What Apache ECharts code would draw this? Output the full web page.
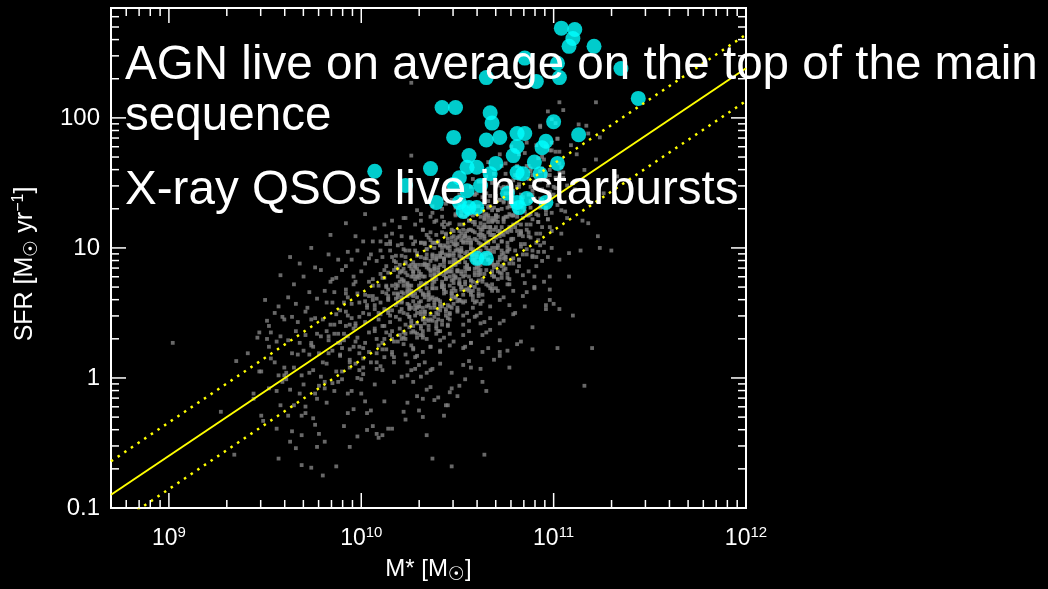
<!DOCTYPE html>
<html>
<head>
<meta charset="utf-8">
<title>SFR versus stellar mass</title>
<script src="https://cdn.jsdelivr.net/npm/echarts@6/dist/echarts.min.js"></script>
<style>
  html, body { margin: 0; padding: 0; background: #000; }
  #chart { width: 1048px; height: 589px; }
</style>
</head>
<body>
<div id="chart"></div>
<script>
// Every quantity below is log10: stellar mass in M_sun, star formation rate in M_sun / yr.

// Axis ranges and labelled decades
const massRange = [Math.log10(5e8), 12];
const sfrRange = [-1, Math.log10(700)];
const massTicks = [9, 10, 11, 12];
const sfrTicks = [-1, 0, 1, 2];
const sfrTickText = ['0.1', '1', '10', '100'];

// Main sequence and its +/- scatter band (end points)
const msLogMass = [8.699, 12];
const msLogSFR = [-0.898, 2.382];
const msUpperLogSFR = [-0.641, 2.641];
const msLowerLogSFR = [-1.154, 2.13];

// Field galaxies, [log M*, log SFR]
const fieldLowMass = [
  [9.02,0.27],[9.27,-0.26],[9.34,-0.59],[9.41,0.19],[9.35,0.13],[9.47,0.35],[9.51,0.30],[9.52,0.24],[9.48,0.05],[9.56,-0.10],
  [9.57,0.02],[9.44,-0.16],[9.48,-0.29],[9.56,-0.39],[9.44,-0.12],[9.47,0.05],[9.52,-0.08],[9.55,0.12],[9.58,-0.21],[9.49,-0.33],
  [9.56,0.28],[9.60,0.02],[9.53,0.35],[9.46,0.31],[9.57,-0.62],[9.63,-0.49],[9.69,-0.67],[9.78,-0.43],[9.94,-0.53],[9.91,-0.37],
  [9.50,0.60],[9.51,0.44],[9.58,0.79],[9.59,0.47],[9.58,0.32],[9.63,0.93],[9.65,0.72],[9.66,0.57],[9.70,0.78],[9.74,1.00],
  [9.84,1.10],[9.85,0.76],[9.92,1.19],[9.76,0.85],[9.60,0.45],[9.52,0.40],[9.97,1.09],[9.93,0.97],[9.90,0.83],
  [9.61,-0.01],[9.64,0.19],[9.62,-0.29],[9.60,0.08],[9.63,-0.09],[9.62,0.29],[9.64,-0.41],[9.61,0.04],
  [9.65,0.08],[9.68,-0.12],[9.67,0.43],[9.69,0.02],[9.66,-0.54],[9.68,0.27],[9.65,-0.21],[9.67,0.18],[9.69,-0.29],
  [9.74,0.25],[9.71,-0.27],[9.73,0.18],[9.70,-0.05],[9.72,0.54],[9.74,-0.69],[9.71,0.33],[9.73,0.04],[9.71,-0.22],[9.74,0.27],
  [9.75,0.06],[9.77,-0.16],[9.79,0.32],[9.76,-0.36],[9.78,0.19],[9.76,0.46],[9.79,0.01],[9.77,-0.53],[9.75,0.24],[9.78,-0.06],[9.77,0.34],
  [9.81,-0.49],[9.83,0.32],[9.81,-0.03],[9.84,0.41],[9.82,-0.19],[9.80,0.45],[9.83,0.19],[9.82,0.11],[9.84,0.74],[9.81,-0.08],[9.83,0.29],[9.80,-0.75],[9.82,0.36],
  [9.89,0.18],[9.87,0.77],[9.85,-0.04],[9.88,0.34],[9.87,-0.68],[9.89,0.43],[9.86,-0.10],[9.88,0.27],[9.85,0.58],[9.87,0.05],[9.89,0.27],[9.86,0.41],[9.88,-0.03],[9.86,0.34],[9.89,0.17],
  [9.93,0.32],[9.92,0.65],[9.94,0.12],[9.91,0.29],[9.93,0.48],[9.90,-0.01],[9.92,0.40],[9.94,0.22],[9.91,0.58],[9.93,-0.12],[9.91,0.34],[9.94,0.14],[9.92,0.68],[9.90,0.23],[9.93,-0.27],[9.92,0.51],[9.94,0.08],
  [9.96,0.24],[9.98,0.65],[9.95,-0.10],[9.97,0.40],[9.99,0.19],[9.96,0.72],[9.98,0.31],[9.96,-0.24],[9.99,0.58],[9.97,0.11],[9.95,0.46],[9.98,0.00],[9.97,0.42],[9.99,0.24],[9.96,0.78],[9.98,-0.45],[9.95,0.57],[9.97,0.28],[9.99,0.06],
  [9.53,0.15],[9.57,0.55],[9.62,0.62],[9.66,0.36],[9.68,0.88],[9.71,0.51],[9.73,0.66],[9.75,-0.31],[9.77,0.61],[9.79,0.83],[9.80,0.12],[9.82,0.58],
  [9.83,0.95],[9.85,0.21],[9.86,0.66],[9.88,0.91],[9.89,0.52],[9.90,0.05],[9.92,0.86],[9.93,0.62],[9.95,0.91],[9.96,0.38],[9.97,0.74],[9.98,0.98],
  [9.99,0.47],[9.70,0.21],[9.74,0.45],[9.81,0.67],[9.87,0.49],[9.94,0.41],[9.64,0.47],[9.59,-0.03],[9.55,0.50],[9.69,-0.44],[9.76,-0.12]
];

const fieldMidMass = [
  [10.02,-0.18],[10.04,0.63],[10.01,0.15],[10.03,0.54],[10.01,0.03],[10.04,0.49],[10.02,0.27],[10.00,0.82],[10.03,-0.40],[10.02,0.64],[10.04,0.35],[10.01,0.08],[10.03,0.56],[10.00,-0.12],[10.02,0.43],[10.04,0.74],[10.01,0.23],[10.03,-0.27],[10.01,0.50],[10.04,0.20],[10.02,0.59],[10.00,-0.01],
  [10.08,0.90],[10.06,-0.37],[10.09,0.71],[10.07,0.38],[10.05,0.12],[10.08,0.61],[10.07,-0.05],[10.09,0.50],[10.06,0.76],[10.08,0.30],[10.05,-0.25],[10.07,0.56],[10.09,0.25],[10.06,0.63],[10.08,0.07],[10.06,0.71],[10.09,0.45],[10.07,0.36],[10.05,0.95],[10.08,0.19],[10.07,0.53],[10.09,-0.46],[10.06,0.60],[10.08,0.12],
  [10.12,0.53],[10.10,0.80],[10.13,0.35],[10.12,-0.18],[10.14,0.63],[10.11,0.27],[10.13,0.70],[10.10,0.09],[10.12,0.77],[10.14,0.50],[10.11,0.40],[10.13,1.03],[10.11,0.22],[10.14,0.60],[10.11,-0.44],[10.14,0.68],[10.12,0.16],[10.10,0.49],[10.13,0.86],[10.12,0.30],[10.14,0.52],[10.11,0.66],[10.13,0.22],[10.10,0.58],[10.12,0.40],[10.14,0.81],[10.11,0.06],
  [10.17,0.16],[10.19,0.84],[10.16,0.52],[10.18,0.47],[10.15,1.05],[10.17,0.28],[10.19,0.65],[10.16,-0.39],[10.18,0.72],[10.16,0.20],[10.19,0.58],[10.17,0.90],[10.15,0.33],[10.18,0.56],[10.16,0.71],[10.19,0.28],[10.17,0.65],[10.15,0.43],[10.18,0.85],[10.17,0.12],[10.19,0.62],[10.16,0.36],[10.18,0.94],[10.15,0.48],[10.17,-0.03],[10.19,0.78],[10.16,0.30],[10.18,0.69],[10.16,0.18],[10.19,0.64],
  [10.23,-0.32],[10.20,0.74],[10.22,0.26],[10.24,0.63],[10.21,0.94],[10.23,0.41],[10.21,0.59],[10.24,0.79],[10.21,0.30],[10.24,0.72],[10.22,0.50],[10.20,0.87],[10.23,0.18],[10.22,0.65],[10.24,0.57],[10.21,0.01],[10.23,0.98],[10.20,0.33],[10.22,0.71],[10.24,0.02],[10.21,0.82],[10.23,0.34],[10.21,0.66],[10.24,0.49],[10.21,1.03],[10.24,-0.19],[10.22,0.84],[10.20,0.51],[10.23,0.30],[10.22,0.75],[10.24,0.12],[10.21,0.62],[10.23,0.93],
  [10.29,0.84],[10.26,0.35],[10.28,0.76],[10.26,0.54],[10.29,0.96],[10.27,0.22],[10.25,0.68],[10.28,0.48],[10.27,1.03],[10.29,0.62],[10.26,0.06],[10.28,0.87],[10.25,0.39],[10.27,0.78],[10.29,0.31],[10.26,0.71],[10.28,0.53],[10.26,1.08],[10.29,-0.14],[10.27,0.89],[10.25,0.56],[10.28,0.35],[10.27,0.80],[10.29,0.17],[10.26,0.67],[10.28,0.98],[10.25,0.47],[10.27,-0.03],[10.29,0.78],[10.26,0.42],[10.28,0.85],[10.26,0.25],[10.29,0.94],[10.27,0.63],[10.25,0.54],[10.28,1.18],
  [10.31,0.51],[10.34,1.10],[10.32,0.65],[10.30,0.10],[10.33,0.92],[10.32,0.46],[10.34,0.85],[10.31,0.33],[10.33,0.78],[10.30,0.55],[10.32,1.14],[10.34,-0.09],[10.31,0.93],[10.33,0.64],[10.31,0.38],[10.34,0.87],[10.32,0.20],[10.30,0.71],[10.33,1.03],[10.32,0.54],[10.34,0.04],[10.31,0.80],[10.33,0.49],[10.30,0.87],[10.32,0.31],[10.34,0.99],[10.31,0.67],[10.33,0.62],[10.31,1.21],[10.34,0.45],[10.32,0.78],[10.30,-0.25],[10.33,0.87],[10.32,0.36],[10.34,0.73],[10.31,1.04],[10.33,0.51],[10.30,0.68],
  [10.35,0.37],[10.38,0.83],[10.37,0.62],[10.39,1.21],[10.36,-0.07],[10.38,1.00],[10.35,0.66],[10.37,0.44],[10.39,0.92],[10.36,0.24],[10.38,0.79],[10.36,1.06],[10.39,0.61],[10.37,0.07],[10.35,0.84],[10.38,0.54],[10.37,0.94],[10.39,0.38],[10.36,1.01],[10.38,0.74],[10.35,0.64],[10.37,1.27],[10.39,0.50],[10.36,0.82],[10.38,-0.17],[10.36,0.90],[10.39,0.43],[10.37,0.76],[10.35,1.08],[10.38,0.56],[10.37,0.75],[10.39,0.94],[10.36,0.45],[10.38,0.86],[10.35,0.63],[10.37,1.04],[10.39,0.34],[10.36,0.79],[10.38,0.58],[10.36,1.12],
  [10.44,0.51],[10.41,0.94],[10.43,0.31],[10.40,0.81],[10.42,1.12],[10.44,0.66],[10.41,0.11],[10.43,0.92],[10.41,0.57],[10.44,1.01],[10.42,0.41],[10.40,1.05],[10.43,0.79],[10.42,0.71],[10.44,1.34],[10.41,0.52],[10.43,0.89],[10.40,-0.15],[10.42,0.96],[10.44,0.48],[10.41,0.80],[10.43,1.16],[10.41,0.59],[10.44,0.82],[10.42,0.97],[10.40,0.49],[10.43,0.91],[10.42,0.70],[10.44,1.11],[10.41,0.36],[10.43,0.86],[10.40,0.60],[10.42,1.18],[10.44,0.77],[10.41,0.21],[10.43,1.02],[10.41,0.55],[10.44,0.95],[10.42,0.44],[10.40,0.85],[10.43,0.68],[10.42,1.24],
  [10.45,0.94],[10.47,0.63],[10.49,1.06],[10.46,0.45],[10.48,1.13],[10.46,0.82],[10.49,0.78],[10.47,1.37],[10.45,0.56],[10.48,0.94],[10.47,-0.08],[10.49,1.03],[10.46,0.50],[10.48,0.87],[10.45,1.18],[10.47,0.65],[10.49,0.87],[10.46,1.01],[10.48,0.57],[10.46,0.94],[10.49,0.77],[10.47,1.14],[10.45,0.40],[10.48,0.91],[10.47,0.67],[10.49,1.25],[10.46,0.82],[10.48,0.28],[10.45,1.04],[10.47,0.61],[10.49,0.98],[10.46,0.49],[10.48,0.96],[10.46,0.71],[10.49,1.31],[10.47,0.04],[10.45,1.07],[10.48,0.79],[10.47,0.54],[10.49,1.02],[10.46,0.34],[10.48,0.89],
  [10.08,-0.43],[10.14,-0.39],[10.02,1.26],[10.06,1.05],[10.13,1.09],[10.20,1.16],[10.22,1.23],[10.15,0.98],[10.02,0.88],[10.26,2.27],[10.26,1.71],
  [10.37,-0.62],[10.34,-0.44],[10.43,-0.29],[10.32,-0.30],[10.45,-0.21],[10.47,-0.68],[10.32,-0.16],[10.22,-0.26],[10.44,-0.21],[10.46,-0.11],
  [10.01,1.05],[10.04,0.92],[10.07,1.15],[10.10,0.98],[10.12,1.18],[10.16,1.21],[10.19,1.02]
];

// Densest part of the sequence, 10^10.2 - 10^10.8 M_sun
const fieldCore = [
  [10.22,0.74],[10.20,0.38],[10.24,0.66],[10.21,0.53],[10.23,0.88],[10.22,0.31],[10.24,0.70],[10.20,0.45],[10.23,0.81],[10.21,0.58],[10.22,0.35],[10.24,0.73],[10.21,0.82],
  [10.27,0.36],[10.25,0.71],[10.29,0.54],[10.26,0.84],[10.28,0.65],[10.27,0.40],[10.29,0.78],[10.25,0.86],[10.28,0.56],[10.26,0.65],[10.27,0.82],[10.29,0.50],[10.26,0.78],
  [10.32,0.45],[10.30,0.79],[10.34,0.95],[10.31,0.59],[10.33,0.72],[10.32,0.87],[10.34,0.55],[10.30,0.82],[10.33,0.51],[10.31,0.73],[10.32,0.64],[10.34,0.99],[10.31,0.40],
  [10.37,0.92],[10.35,0.56],[10.39,0.91],[10.36,0.54],[10.38,0.80],[10.37,0.69],[10.39,1.04],[10.35,0.44],[10.38,0.84],[10.36,0.61],[10.37,0.95],[10.39,0.76],[10.36,0.49],
  [10.42,0.74],[10.40,1.05],[10.44,0.53],[10.41,0.87],[10.43,0.68],[10.42,1.00],[10.44,0.81],[10.40,0.53],[10.43,0.92],[10.41,1.02],[10.42,0.70],[10.44,0.83],[10.41,0.96],
  [10.47,1.05],[10.45,0.82],[10.49,0.62],[10.46,0.95],[10.48,1.09],[10.47,0.75],[10.49,0.88],[10.45,1.00],[10.48,0.69],[10.46,0.98],[10.47,0.65],[10.49,0.91],[10.46,0.78],
  [10.52,0.80],[10.50,0.89],[10.54,1.09],[10.51,0.72],[10.53,1.05],[10.52,0.70],[10.54,0.96],[10.50,0.82],[10.53,1.18],[10.51,0.60],[10.52,0.98],[10.54,0.79],[10.51,1.09],
  [10.57,0.75],[10.55,0.97],[10.59,0.91],[10.56,1.21],[10.58,0.67],[10.57,1.03],[10.59,0.84],[10.55,1.13],[10.58,0.95],[10.56,0.69],[10.57,1.06],[10.59,1.20],[10.56,0.84],
  [10.62,1.08],[10.60,0.85],[10.64,1.22],[10.61,0.98],[10.63,0.76],[10.62,1.11],[10.64,1.25],[10.60,0.88],[10.63,1.02],[10.61,1.16],[10.62,0.83],[10.64,1.16],[10.61,0.79],
  [10.67,1.16],[10.65,1.26],[10.69,0.97],[10.66,1.05],[10.68,1.23],[10.67,0.88],[10.69,1.21],[10.65,0.83],[10.68,1.10],[10.66,0.98],[10.67,1.32],[10.69,0.78],[10.66,1.12],
  [10.72,0.93],[10.70,1.22],[10.74,0.92],[10.71,1.13],[10.73,1.05],[10.72,1.37],[10.74,0.83],[10.70,1.16],[10.73,0.98],[10.71,1.29],[10.72,1.09],[10.74,0.87],[10.71,1.20],
  [10.77,1.42],[10.75,0.84],[10.79,1.25],[10.76,1.01],[10.78,1.36],[10.77,1.14],[10.79,0.92],[10.75,1.24],[10.78,1.39],[10.76,1.04],[10.77,1.16],[10.79,1.34],[10.76,0.97]
];

// Galaxies sitting above the sequence
const fieldUpper = [
  [10.13,0.71],[10.11,0.93],[10.14,0.61],[10.12,0.83],[10.10,1.05],[10.13,0.65],[10.11,0.77],
  [10.18,0.89],[10.16,1.11],[10.19,0.71],[10.17,0.83],[10.15,1.03],[10.18,0.61],[10.16,0.93],
  [10.23,0.89],[10.21,1.09],[10.24,0.67],[10.22,0.99],[10.20,0.81],[10.23,1.23],[10.21,0.76],
  [10.28,1.05],[10.26,0.87],[10.29,1.29],[10.27,0.82],[10.25,0.98],[10.28,0.86],[10.26,1.08],
  [10.33,0.88],[10.31,1.04],[10.34,0.92],[10.32,1.14],[10.30,0.77],[10.33,1.04],[10.31,1.26],
  [10.38,1.20],[10.36,0.83],[10.39,1.10],[10.37,1.32],[10.35,0.87],[10.38,1.04],[10.36,1.24],
  [10.43,1.38],[10.41,0.93],[10.44,1.10],[10.42,1.30],[10.40,0.83],[10.43,1.20],[10.41,1.02],
  [10.48,1.36],[10.46,0.89],[10.49,1.26],[10.47,1.08],[10.45,1.45],[10.48,1.03],[10.46,1.19],
  [10.53,1.14],[10.51,1.51],[10.54,1.09],[10.52,1.25],[10.50,1.08],[10.53,1.35],[10.51,0.98],
  [10.58,1.31],[10.56,1.14],[10.59,1.41],[10.57,1.04],[10.55,1.26],[10.58,1.53],[10.56,1.08],
  [10.63,1.10],[10.61,1.32],[10.64,1.59],[10.62,1.14],[10.60,1.26],[10.63,1.51],[10.61,1.04],
  [10.68,1.20],[10.66,1.32],[10.69,1.57],[10.67,1.10],[10.65,1.42],[10.68,1.29],[10.66,1.66],
  [10.73,1.16],[10.71,1.48],[10.74,1.35],[10.72,1.72],[10.70,1.25],[10.73,1.46],[10.71,1.29],
  [10.78,1.78],[10.76,1.31],[10.79,1.52],[10.77,1.35],[10.75,1.57],[10.78,1.25],[10.76,1.47],
  [10.83,1.41],[10.81,1.63],[10.84,1.31],[10.82,1.53],[10.80,1.75],[10.83,1.35],[10.81,1.47],
  [10.88,1.59],[10.86,1.81],[10.89,1.41],[10.87,1.53],[10.85,1.73],[10.88,1.31],[10.86,1.63],
  [10.93,1.59],[10.91,1.79],[10.94,1.37],[10.92,1.69],[10.90,1.51],[10.93,1.93],[10.91,1.46],
  [10.98,1.75],[10.96,1.57],[10.99,1.99],[10.97,1.52],[10.95,1.68],[10.98,1.56],[10.96,1.78],
  [11.03,1.58],[11.01,1.74],[11.04,1.62],[11.02,1.84],[11.00,1.47],[11.03,1.74],[11.01,1.96]
];

// Galaxies sitting below the sequence
const fieldLower = [
  [10.27,0.59],[10.29,0.34],[10.25,0.47],[10.28,0.16],[10.26,0.64],[10.29,0.42],[10.27,0.23],[10.25,0.53],[10.28,0.07],[10.26,0.44],
  [10.32,0.45],[10.34,0.30],[10.30,0.58],[10.33,0.12],[10.31,0.49],[10.34,0.69],[10.32,0.33],[10.30,0.55],[10.33,0.42],[10.31,0.01],
  [10.37,0.72],[10.39,0.40],[10.35,0.60],[10.38,0.47],[10.36,0.06],[10.39,0.69],[10.37,0.69],[10.35,0.40],[10.38,0.60],[10.36,0.24],
  [10.42,0.72],[10.44,0.76],[10.40,0.45],[10.43,0.65],[10.41,0.29],[10.44,0.82],[10.42,0.55],[10.40,0.36],[10.43,0.71],[10.41,0.20],
  [10.47,0.85],[10.49,0.62],[10.45,0.41],[10.48,0.76],[10.46,0.25],[10.49,0.67],[10.47,0.82],[10.45,0.46],[10.48,0.73],[10.46,0.55],
  [10.52,0.70],[10.54,0.89],[10.50,0.51],[10.53,0.78],[10.51,0.60],[10.54,0.24],[10.52,0.82],[10.50,0.82],[10.53,0.58],[10.51,0.73],
  [10.57,0.27],[10.59,0.89],[10.55,0.87],[10.58,0.63],[10.56,0.78],[10.59,0.47],[10.57,0.95],[10.55,0.68],[10.58,0.54],[10.56,0.84],
  [10.62,0.50],[10.64,1.02],[10.60,0.73],[10.63,0.59],[10.61,0.89],[10.64,0.43],[10.62,0.80],[10.60,0.95],[10.63,0.64],[10.61,0.86],
  [10.67,0.46],[10.69,0.87],[10.65,1.00],[10.68,0.69],[10.66,0.91],[10.69,0.78],[10.67,0.37],[10.65,0.95],[10.68,1.00],[10.66,0.71],
  [10.72,0.81],[10.74,0.44],[10.70,1.00],[10.73,1.05],[10.71,0.76],[10.74,0.96],[10.72,0.60],[10.70,1.08],[10.73,0.86],[10.71,0.67],
  [10.77,0.99],[10.79,0.67],[10.75,1.13],[10.78,0.91],[10.76,0.72],[10.79,1.07],[10.77,0.56],[10.75,0.93],[10.78,1.13],[10.76,0.77],
  [10.82,1.10],[10.84,0.63],[10.80,0.98],[10.83,1.18],[10.81,0.82],[10.84,1.09],[10.82,0.91],[10.80,0.50],[10.83,1.13],[10.81,1.13],
  [10.87,1.12],[10.89,0.98],[10.85,0.55],[10.88,1.18],[10.86,1.18],[10.89,0.94],[10.87,1.09],[10.85,0.73],[10.88,1.26],[10.86,0.99],
  [10.92,0.97],[10.94,1.16],[10.90,0.78],[10.93,1.31],[10.91,1.04],[10.94,0.90],[10.92,1.20],[10.90,0.69],[10.93,1.11],[10.91,1.26],
  [10.97,0.93],[10.99,1.27],[10.95,0.74],[10.98,1.16],[10.96,1.31],[10.99,1.00],[10.97,1.22],[10.95,1.04],[10.98,0.68],[10.96,1.26]
];

const fieldHighMass = [
  [10.51,1.41],[10.53,0.64],[10.51,0.97],[10.54,-0.01],[10.52,1.06],[10.50,0.54],[10.53,0.92],[10.52,1.25],[10.54,0.72],[10.51,0.89],[10.53,1.08],[10.50,0.59],[10.52,1.00],[10.54,0.82],[10.51,1.18],[10.53,0.48],[10.51,0.94],[10.54,0.74],[10.52,1.28],[10.50,0.83],[10.53,0.33],[10.52,1.11],[10.54,0.68],[10.51,0.76],[10.53,1.04],[10.50,0.52],[10.52,0.97],[10.54,0.59],[10.51,1.33],[10.53,0.10],[10.51,1.13],[10.54,0.85],[10.52,0.59],[10.50,1.03],[10.53,0.41],[10.52,0.93],[10.54,1.24],[10.51,0.73],[10.53,0.23],[10.50,0.99],[10.52,0.68],[10.54,1.11],
  [10.59,1.32],[10.57,0.75],[10.55,0.93],[10.58,1.13],[10.57,0.66],[10.59,1.07],[10.56,0.84],[10.58,1.25],[10.55,0.50],[10.57,1.00],[10.59,0.79],[10.56,1.32],[10.58,0.91],[10.56,0.36],[10.59,1.18],[10.57,0.71],[10.55,1.06],[10.58,0.60],[10.57,0.99],[10.59,1.41],[10.56,0.13],[10.58,1.20],[10.55,0.86],[10.57,0.64],[10.59,1.12],[10.56,0.44],[10.58,0.99],[10.56,1.26],[10.59,0.81],[10.57,0.27],[10.55,1.04],[10.58,0.74],[10.57,1.14],[10.59,0.58],[10.56,1.21],[10.58,0.94],[10.55,0.84],[10.57,1.47],[10.59,0.70],[10.56,0.67],
  [10.63,1.30],[10.62,0.57],[10.64,1.07],[10.61,0.81],[10.63,1.39],[10.60,0.93],[10.62,0.42],[10.64,1.23],[10.61,0.75],[10.63,1.14],[10.61,0.63],[10.64,1.09],[10.62,0.87],[10.60,1.42],[10.63,0.20],[10.62,1.24],[10.64,0.95],[10.61,0.68],[10.63,1.16],[10.60,0.48],[10.62,1.03],[10.64,1.34],[10.61,0.83],[10.63,0.33],[10.61,1.10],[10.64,0.80],[10.62,1.19],[10.60,0.59],[10.63,1.28],[10.62,0.98],[10.64,0.93],[10.61,1.51],[10.63,0.74],[10.60,1.06],[10.62,0.07],[10.64,1.18],[10.61,0.65],
  [10.66,1.25],[10.68,0.82],[10.65,1.16],[10.67,0.69],[10.69,1.14],[10.66,0.91],[10.68,1.50],[10.66,0.23],[10.69,1.31],[10.67,0.98],[10.65,0.72],[10.68,1.21],[10.67,0.55],[10.69,1.10],[10.66,1.36],[10.68,0.90],[10.65,0.35],[10.67,1.16],[10.69,0.85],[10.66,1.23],[10.68,0.67],[10.66,1.31],[10.69,1.05],[10.67,0.96],[10.65,1.55],[10.68,0.79],[10.67,1.13],[10.69,0.14],[10.66,1.20],[10.68,0.72],[10.65,1.04],[10.67,1.40],[10.69,0.87],[10.66,1.04],
  [10.72,0.29],[10.74,1.36],[10.71,1.02],[10.73,0.80],[10.71,1.24],[10.74,0.62],[10.72,1.13],[10.70,1.40],[10.73,0.95],[10.72,0.42],[10.74,1.23],[10.71,0.87],[10.73,1.30],[10.70,0.69],[10.72,1.37],[10.74,1.10],[10.71,1.00],[10.73,1.63],[10.71,0.82],[10.74,1.20],[10.72,0.17],[10.70,1.24],[10.73,0.77],[10.72,1.11],[10.74,1.47],[10.71,0.89],[10.73,1.11],[10.70,1.25],[10.72,0.91],[10.74,1.22],
  [10.78,1.48],[10.76,0.98],[10.79,0.49],[10.77,1.26],[10.75,0.91],[10.78,1.35],[10.77,0.76],[10.79,1.44],[10.76,1.12],[10.78,1.07],[10.75,1.65],[10.77,0.88],[10.79,1.25],[10.76,0.21],[10.78,1.32],[10.76,0.80],[10.79,1.18],[10.77,1.50],[10.75,0.93],[10.78,1.16],[10.77,1.32],[10.79,0.88],[10.76,1.24],[10.78,1.06],[10.75,1.42],[10.77,0.72],
  [10.82,1.47],[10.80,1.16],[10.83,1.12],[10.82,1.72],[10.84,0.95],[10.81,1.27],[10.83,0.28],[10.80,1.34],[10.82,0.86],[10.84,1.23],[10.81,1.54],[10.83,1.01],[10.81,1.19],[10.84,1.39],[10.82,0.91],[10.80,1.28],[10.83,1.11],[10.82,1.49],[10.84,0.79],[10.81,1.24],[10.83,1.03],[10.80,1.56],
  [10.87,1.41],[10.89,0.93],[10.86,1.25],[10.88,1.61],[10.85,1.03],[10.87,1.25],[10.89,1.44],[10.86,0.95],[10.88,1.36],[10.86,1.14],[10.89,1.56],[10.87,0.82],[10.85,1.28],[10.88,1.08],[10.87,1.63],[10.89,1.22],[10.86,0.66],[10.88,1.47],
  [10.93,1.02],[10.90,1.38],[10.92,1.20],[10.94,1.61],[10.91,0.86],[10.93,1.36],[10.91,1.11],[10.94,1.70],[10.92,1.25],[10.90,0.70],[10.93,1.52],[10.92,1.06],[10.94,1.45],[10.91,0.93],[10.93,1.38],
  [10.99,1.75],[10.96,1.29],[10.98,0.78],[10.96,1.55],[10.99,1.13],[10.97,1.48],[10.95,0.97],[10.98,1.43],[10.97,1.22],[10.99,1.81],[10.96,0.53],[10.98,1.60],
  [11.01,1.46],[11.04,1.29],[11.02,1.84],[11.00,0.57],[11.03,1.65],[11.02,1.33],[11.04,1.11],[11.01,1.54],[11.03,0.91],[11.00,1.41],
  [11.05,1.58],[11.08,0.96],[11.07,1.48],[11.09,1.79],[11.06,1.28],[11.08,0.78],[11.05,1.54],[11.07,1.23],
  [11.12,1.72],[11.15,1.21],[11.11,1.45],[11.18,1.88],[11.14,0.98],[11.16,1.60],[11.13,1.95],[11.19,1.35],
  [11.22,1.68],[11.26,1.42],[11.30,0.98],[11.24,1.85],[11.33,1.55],
  [11.16,-0.06],[11.20,0.23],[11.24,1.00],[11.23,1.09],[11.18,1.19],[11.02,0.23],[11.03,0.53],[10.96,0.56],[10.89,0.39],[10.81,0.26],
  [10.77,0.08],[10.65,-0.10],[10.64,-0.59],[10.50,-0.14],[11.03,2.12],[10.97,2.05],[11.05,2.06],[11.22,2.12],[10.93,1.94],[11.17,1.94],
  [10.98,0.60],[11.10,0.48],[10.89,0.22],[10.72,0.20],[10.57,0.08],[10.63,-0.03],[10.51,-0.06]
];

// X-ray selected AGN hosts, [log M*, log SFR]
const xrayAGN = [
  [11.04,2.69],[11.11,2.68],[11.10,2.61],[11.08,2.55],[11.21,2.55],[10.85,2.46],[11.02,2.42],[11.03,2.31],[11.35,2.38],[10.65,2.31],
  [10.91,2.28],[11.44,2.15],[10.42,2.08],[10.49,2.08],[10.67,2.04],[10.68,1.96],[11.00,1.97],[10.48,1.85],[10.65,1.83],[10.72,1.85],
  [10.81,1.88],[10.85,1.88],[10.96,1.82],[10.94,1.77],[11.13,1.87],[10.81,1.78],[10.79,1.71],[10.56,1.71],[10.70,1.65],[10.90,1.66],
  [11.02,1.65],[10.07,1.59],[10.36,1.61],[10.55,1.62],[10.60,1.62],[10.51,1.54],[10.67,1.57],[10.81,1.58],[10.84,1.57],[10.93,1.57],
  [10.23,1.48],[10.48,1.49],[10.62,1.48],[10.55,1.44],[10.76,1.42],[10.39,1.35],[10.51,1.35],[10.60,1.31],[10.81,1.35],[10.86,1.38],
  [10.96,1.35],[10.53,1.28],[10.56,1.31],[10.82,1.31],[10.60,0.92],[10.65,0.92]
];

const annotationLines = [
  'AGN live on average on the top of the main',
  'sequence',
  'X-ray QSOs live in starbursts'
];
const annotationBaselines = [82, 133, 207];

const FONT = '"Liberation Sans", Arial, "DejaVu Sans", sans-serif';
const minorSteps = [2, 3, 4, 5, 6, 7, 8, 9];

// Decade and sub-decade tick positions inside a log10 range
function logTickList(range) {
  const out = [];
  for (let d = Math.floor(range[0]); d <= Math.ceil(range[1]); d++) {
    out.push({ v: d, major: true });
    minorSteps.forEach(k => out.push({ v: d + Math.log10(k), major: false }));
  }
  return out.filter(t => t.v > range[0] + 1e-6 && t.v < range[1] - 1e-6);
}
const massTickList = logTickList(massRange);
const sfrTickList = logTickList(sfrRange);

// Inward ticks on all four sides of the frame
function renderFrameTicks(params, api) {
  const cs = params.coordSys;
  const L = cs.x, R = cs.x + cs.width, T = cs.y, B = cs.y + cs.height;
  const style = { stroke: '#ffffff', lineWidth: 1.5 };
  const kids = [];
  massTickList.forEach(t => {
    const px = api.coord([t.v, sfrRange[0]])[0];
    const len = t.major ? 15 : 8;
    kids.push({ type: 'line', shape: { x1: px, y1: B, x2: px, y2: B - len }, style });
    kids.push({ type: 'line', shape: { x1: px, y1: T, x2: px, y2: T + len }, style });
  });
  sfrTickList.forEach(t => {
    const py = api.coord([massRange[0], t.v])[1];
    const len = t.major ? 15 : 8;
    kids.push({ type: 'line', shape: { x1: L, y1: py, x2: L + len, y2: py }, style });
    kids.push({ type: 'line', shape: { x1: R, y1: py, x2: R - len, y2: py }, style });
  });
  return { type: 'group', children: kids };
}

const isDecade = v => Math.abs(v - Math.round(v)) < 1e-6;

const chart = echarts.init(document.getElementById('chart'), null, { renderer: 'canvas' });

chart.setOption({
  backgroundColor: '#000000',
  animation: false,
  textStyle: { fontFamily: FONT },
  grid: {
    left: 111, right: 302, top: 8, bottom: 79,
    show: true, borderColor: '#ffffff', borderWidth: 2, backgroundColor: 'transparent'
  },
  xAxis: {
    type: 'value',
    min: massRange[0], max: massRange[1],
    splitNumber: 3,
    axisLine: { show: false }, axisTick: { show: false }, splitLine: { show: false },
    axisLabel: {
      customValues: massTicks,
      margin: 17,
      formatter: v => isDecade(v) ? '{b|10}{e|' + Math.round(v) + '}' : '',
      rich: {
        b: { fontSize: 23, color: '#ffffff', fontFamily: FONT, verticalAlign: 'bottom' },
        e: { fontSize: 15, color: '#ffffff', fontFamily: FONT, verticalAlign: 'bottom', padding: [0, 0, 10, 0] }
      }
    },
    name: '{n|M* [M}{s|☉}{n|]}',
    nameLocation: 'middle',
    nameGap: 49,
    nameTextStyle: {
      rich: {
        n: { fontSize: 24, color: '#ffffff', fontFamily: FONT, verticalAlign: 'bottom', padding: [0, 0, 3, 0] },
        s: { fontSize: 19, color: '#ffffff', fontFamily: FONT, verticalAlign: 'bottom' }
      }
    }
  },
  yAxis: {
    type: 'value',
    min: sfrRange[0], max: sfrRange[1],
    splitNumber: 4,
    axisLine: { show: false }, axisTick: { show: false }, splitLine: { show: false },
    axisLabel: {
      customValues: sfrTicks,
      margin: 11,
      color: '#ffffff',
      fontSize: 24,
      fontFamily: FONT,
      formatter: v => {
        if (!isDecade(v)) return '';
        const i = sfrTicks.indexOf(Math.round(v));
        return i >= 0 ? sfrTickText[i] : '';
      }
    },
    name: '{n|SFR [M}{s|☉}{n| yr}{p|−1}{n|]}',
    nameLocation: 'middle',
    nameGap: 70,
    nameRotate: 90,
    nameTextStyle: {
      padding: [0, 12, 0, 0],
      rich: {
        n: { fontSize: 25, color: '#ffffff', fontFamily: FONT, verticalAlign: 'bottom', padding: [0, 0, 3, 0] },
        s: { fontSize: 19, color: '#ffffff', fontFamily: FONT, verticalAlign: 'bottom' },
        p: { fontSize: 16, color: '#ffffff', fontFamily: FONT, verticalAlign: 'bottom', padding: [0, 0, 14, 0] }
      }
    }
  },
  series: [
    {
      name: 'field',
      type: 'scatter',
      data: fieldLowMass.concat(fieldMidMass, fieldCore, fieldUpper, fieldLower, fieldHighMass),
      symbol: 'rect',
      symbolSize: 3.8,
      itemStyle: { color: '#828282' },
      silent: true,
      z: 1
    },
    {
      name: 'X-ray AGN',
      type: 'scatter',
      data: xrayAGN,
      symbol: 'circle',
      symbolSize: 15,
      itemStyle: { color: '#00ffff' },
      silent: true,
      z: 2
    },
    {
      name: 'main sequence',
      type: 'line',
      data: msLogMass.map((m, i) => [m, msLogSFR[i]]),
      showSymbol: false,
      lineStyle: { color: '#ffff00', width: 2 },
      silent: true,
      z: 3
    },
    {
      name: 'main sequence upper',
      type: 'line',
      data: msLogMass.map((m, i) => [m, msUpperLogSFR[i]]),
      showSymbol: false,
      lineStyle: { color: '#ffff00', width: 2.5, type: [2.5, 5.5] },
      silent: true,
      z: 3
    },
    {
      name: 'main sequence lower',
      type: 'line',
      data: msLogMass.map((m, i) => [m, msLowerLogSFR[i]]),
      showSymbol: false,
      lineStyle: { color: '#ffff00', width: 2.5, type: [2.5, 5.5] },
      silent: true,
      z: 3
    },
    {
      name: 'frame ticks',
      type: 'custom',
      data: [[massRange[0], sfrRange[0]]],
      renderItem: renderFrameTicks,
      clip: false,
      silent: true,
      z: 4
    }
  ],
  graphic: annotationLines.map((t, i) => ({
    type: 'text',
    x: 125,
    y: annotationBaselines[i] - 16.5,
    z: 100,
    silent: true,
    style: {
      text: t,
      fill: '#ffffff',
      font: '47.6px ' + FONT,
      verticalAlign: 'middle'
    }
  }))
});
</script>
</body>
</html>
